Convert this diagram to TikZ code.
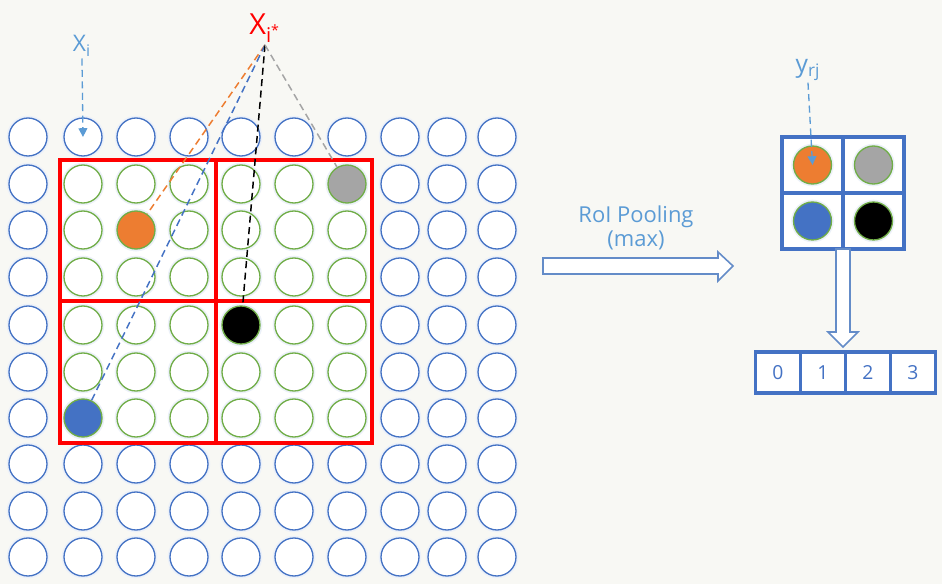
\documentclass[tikz,border=0pt]{standalone}
\usepackage{fontspec}
\setmainfont{Open Sans}
\usetikzlibrary{positioning,arrows.meta}
\definecolor{cblue}{HTML}{4472C4}
\definecolor{cgreen}{HTML}{70AD47}
\definecolor{corange}{HTML}{ED7D31}
\definecolor{cgray}{HTML}{A5A5A5}
\definecolor{lblue}{HTML}{5B9BD5}
\definecolor{bgcol}{HTML}{F8F8F4}
\tikzset{cell/.style={circle, draw=cblue, fill=white, line width=0.75pt, minimum size=0.76cm, inner sep=0pt, preaction={draw=cblue!10, line width=2.6pt}},
  ptr/.style={lblue, line width=0.75pt, dash pattern=on 4pt off 2.5pt, -{Triangle[width=5pt,length=5pt]}},
  dline/.style={#1, line width=0.85pt, dash pattern=on 4pt off 2.5pt},
  pcell/.style={draw=cblue, line width=2pt, fill=white, minimum width=1.22cm, minimum height=1.12cm, outer sep=0pt},
  obox/.style={draw=cblue, line width=2pt, fill=white, minimum width=0.9cm, minimum height=0.82cm, outer sep=0pt, inner sep=0pt, text=cblue, font=\fontsize{11}{12}\selectfont},
  fatarrow/.style={draw={rgb,255:red,100;green,140;blue,200}, line width=0.9pt, fill=white}}

\begin{document}
\begin{tikzpicture}[x=0.02cm, y=-0.02cm]
\fill[bgcol] (0,0) rectangle (942,584);
\useasboundingbox (0,0) rectangle (942,584);
\fill[white] (60,160) rectangle (372,443);
% feature map
\foreach \y [count=\j] in {137,184,230,277,325,372,418,464,511,557}
  \foreach \x [count=\i] in {28,83,136,189,241,294,347,400,447,497} {
    \def\oc{cblue}
    \ifnum\i>1 \ifnum\i<8 \ifnum\j>1 \ifnum\j<8 \def\oc{cgreen}\fi\fi\fi\fi
    \node[cell, draw=\oc] (c-\i-\j) at (\x,\y) {};
  }
\foreach \n/\col [count=\k] in {c-3-3/corange, c-7-2/cgray, c-5-5/black, c-2-7/cblue}
  \node[cell, draw=cgreen, fill=\col] (hot-\k) at (\n) {};
\draw[red, line width=2.2pt] (60,160) rectangle (372,443) (216,160) -- (216,443) (60,301) -- (372,301);

% labels on the map
\node[text=lblue, font=\fontsize{13}{15}\selectfont, inner sep=1pt] (xi) at (82,46) {X\textsubscript{i}};
\draw[ptr] (xi.south) -- (c-2-1.center);
\node[text=red, font=\fontsize{16.5}{18}\selectfont, inner sep=1pt, anchor=south] (xs) at (265,45) {X\textsubscript{i\textsuperscript{*}}};
\draw[dline=corange] (xs.south) -- (hot-1);
\draw[dline=cblue] (xs.south) -- (hot-4);
\draw[dline=black] (xs.south) -- (hot-3);
\draw[dline=cgray] (xs.south) -- (hot-2);

% pooling arrow
\node[text=lblue, align=center, font=\fontsize{12.5}{14}\selectfont] (roi) at (636,228) {RoI Pooling\\(max)};
\draw[fatarrow] (543,258) -- (718,258) -- (718,252) -- (733,266) -- (718,281) -- (718,274) -- (543,274) -- cycle;

% pooled output
\node[pcell] (g-1-1) at (812.5,165) {};
\node[pcell, right=0pt of g-1-1] (g-2-1) {};
\node[pcell, below=0pt of g-1-1] (g-1-2) {};
\node[pcell, right=0pt of g-1-2] (g-2-2) {};
\foreach \g/\col [count=\k] in {g-1-1/corange, g-2-1/cgray, g-1-2/cblue, g-2-2/black}
  \node[cell, draw=cgreen, fill=\col] (p-\k) at (\g) {};
\node[text=lblue, font=\fontsize{14}{16}\selectfont, inner sep=1pt] (yrj) at (808,70) {y\textsubscript{rj}};
\draw[ptr] (yrj.south) -- (p-1.center);

\draw[fatarrow] (836,249) -- (850,249) -- (850,332) -- (858,332) -- (843,347) -- (828,332) -- (836,332) -- cycle;
\node[obox] (o-0) at (778,372.5) {0};
\foreach \k [remember=\k as \p (initially 0)] in {1,2,3}
  \node[obox, right=0pt of o-\p] (o-\k) {\k};
\end{tikzpicture}
\end{document}
